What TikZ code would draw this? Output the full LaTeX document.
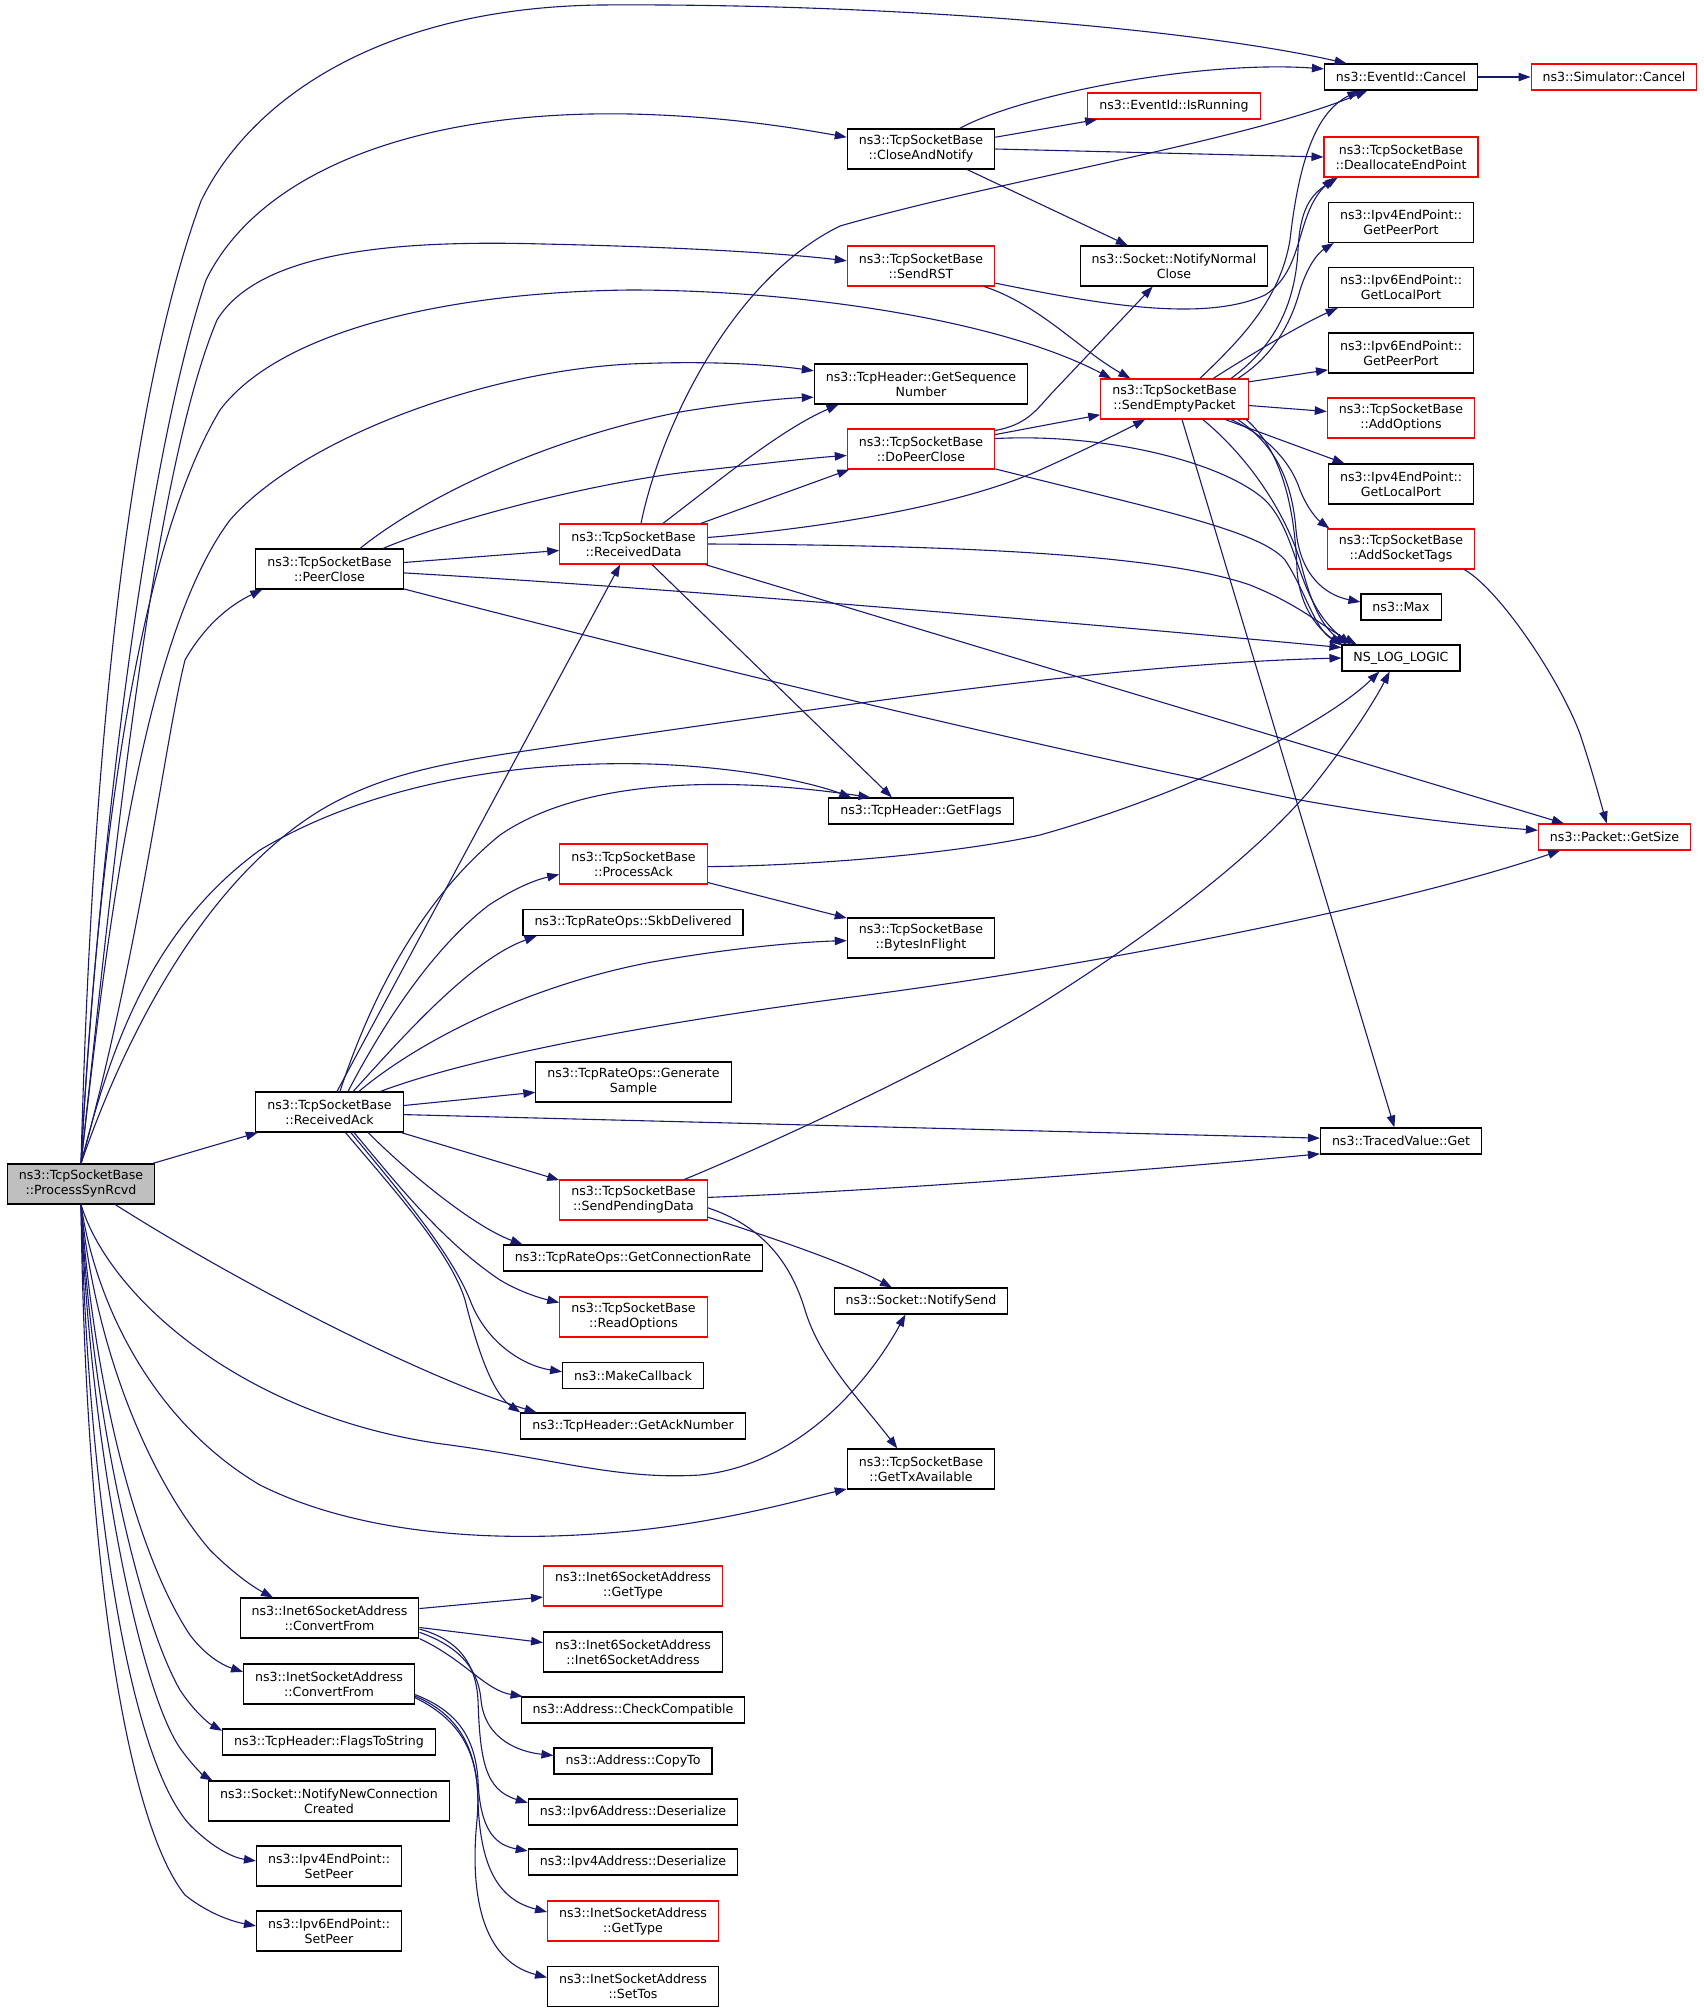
\documentclass[tikz,border=0pt]{standalone}
\usepackage{fontspec}
\setmainfont{DejaVu Sans}
\usetikzlibrary{arrows.meta}
\definecolor{callblue}{RGB}{25,25,112}
\definecolor{rootgray}{RGB}{191,191,191}

\begin{document}
\begin{tikzpicture}[
			x=1pt, y=-1pt,
			fn/.style = {draw=black, fill=white, line width=1.1pt, rectangle, align=center,
				inner xsep=11.5pt, inner ysep=0pt, minimum height=26pt,
				font=\fontsize{12.6}{15}\selectfont},
			twoline/.style = {minimum height=40pt},
			trunc/.style = {draw=red},
			rootfn/.style = {fill=rootgray},
			call/.style = {draw=callblue, line width=1.1pt, -{Triangle[length=12pt,width=8.5pt]}}
		]
		\useasboundingbox (0,0) rectangle (1704,2012);
		% Column 0.
		\node[fn, twoline, rootfn] (P) at (81,1184) {ns3::TcpSocketBase\\::ProcessSynRcvd};
		% Column 1.
		\node[fn, twoline] (PC) at (329.5,569) {ns3::TcpSocketBase\\::PeerClose};
		\node[fn, twoline] (RA) at (329.5,1112) {ns3::TcpSocketBase\\::ReceivedAck};
		\node[fn, twoline] (I6C) at (329.5,1618) {ns3::Inet6SocketAddress\\::ConvertFrom};
		\node[fn, twoline] (I4C) at (329,1684) {ns3::InetSocketAddress\\::ConvertFrom};
		\node[fn] (FTS) at (329,1742) {ns3::TcpHeader::FlagsToString};
		\node[fn, twoline] (NNCC) at (329,1801) {ns3::Socket::NotifyNewConnection\\Created};
		\node[fn, twoline] (V4SP) at (329,1866) {ns3::Ipv4EndPoint::\\SetPeer};
		\node[fn, twoline] (V6SP) at (329,1931) {ns3::Ipv6EndPoint::\\SetPeer};
		% Column 2.
		\node[fn, twoline, trunc] (RD) at (633.5,544) {ns3::TcpSocketBase\\::ReceivedData};
		\node[fn, twoline, trunc] (PA) at (633.5,864) {ns3::TcpSocketBase\\::ProcessAck};
		\node[fn] (SKB) at (633,922.5) {ns3::TcpRateOps::SkbDelivered};
		\node[fn, twoline] (GEN) at (633.5,1082) {ns3::TcpRateOps::Generate\\Sample};
		\node[fn, twoline, trunc] (SPD) at (633.5,1200) {ns3::TcpSocketBase\\::SendPendingData};
		\node[fn] (GCR) at (633,1258) {ns3::TcpRateOps::GetConnectionRate};
		\node[fn, twoline, trunc] (RO) at (633.5,1317) {ns3::TcpSocketBase\\::ReadOptions};
		\node[fn] (MC) at (633,1375.5) {ns3::MakeCallback};
		\node[fn] (GAN) at (633,1426) {ns3::TcpHeader::GetAckNumber};
		\node[fn, twoline, trunc] (I6T) at (633,1586) {ns3::Inet6SocketAddress\\::GetType};
		\node[fn, twoline] (I6S) at (633,1652) {ns3::Inet6SocketAddress\\::Inet6SocketAddress};
		\node[fn] (CC) at (633,1710) {ns3::Address::CheckCompatible};
		\node[fn] (CT) at (633,1761) {ns3::Address::CopyTo};
		\node[fn] (V6D) at (633,1812) {ns3::Ipv6Address::Deserialize};
		\node[fn] (V4D) at (633,1862) {ns3::Ipv4Address::Deserialize};
		\node[fn, twoline, trunc] (I4T) at (633,1921) {ns3::InetSocketAddress\\::GetType};
		\node[fn, twoline] (I4ST) at (633,1986.5) {ns3::InetSocketAddress\\::SetTos};
		% Column 3.
		\node[fn, twoline] (CN) at (921,149) {ns3::TcpSocketBase\\::CloseAndNotify};
		\node[fn, twoline, trunc] (SR) at (921,266) {ns3::TcpSocketBase\\::SendRST};
		\node[fn, twoline] (GSN) at (921,384) {ns3::TcpHeader::GetSequence\\Number};
		\node[fn, twoline, trunc] (DPC) at (921,449) {ns3::TcpSocketBase\\::DoPeerClose};
		\node[fn] (GF) at (921,811) {ns3::TcpHeader::GetFlags};
		\node[fn, twoline] (BIF) at (921,938) {ns3::TcpSocketBase\\::BytesInFlight};
		\node[fn] (NS) at (921,1301) {ns3::Socket::NotifySend};
		\node[fn, twoline] (GTA) at (921,1469) {ns3::TcpSocketBase\\::GetTxAvailable};
		% Column 4.
		\node[fn, trunc] (IR) at (1174,106) {ns3::EventId::IsRunning};
		\node[fn, twoline] (NNC) at (1174,266) {ns3::Socket::NotifyNormal\\Close};
		\node[fn, twoline, trunc] (SEP) at (1174.5,399) {ns3::TcpSocketBase\\::SendEmptyPacket};
		% Column 5.
		\node[fn] (EC) at (1401,77) {ns3::EventId::Cancel};
		\node[fn, twoline, trunc] (DE) at (1401,157) {ns3::TcpSocketBase\\::DeallocateEndPoint};
		\node[fn, twoline] (V4PP) at (1401,222.5) {ns3::Ipv4EndPoint::\\GetPeerPort};
		\node[fn, twoline] (V6LP) at (1401,287.5) {ns3::Ipv6EndPoint::\\GetLocalPort};
		\node[fn, twoline] (V6PP) at (1401,353) {ns3::Ipv6EndPoint::\\GetPeerPort};
		\node[fn, twoline, trunc] (AO) at (1401,418) {ns3::TcpSocketBase\\::AddOptions};
		\node[fn, twoline] (V4LP) at (1401,484) {ns3::Ipv4EndPoint::\\GetLocalPort};
		\node[fn, twoline, trunc] (AST) at (1401,549) {ns3::TcpSocketBase\\::AddSocketTags};
		\node[fn] (MX) at (1401,607) {ns3::Max};
		\node[fn] (LOG) at (1401,658) {NS\_LOG\_LOGIC};
		\node[fn] (TV) at (1401,1141) {ns3::TracedValue::Get};
		% Column 6.
		\node[fn, trunc] (SC) at (1614,77) {ns3::Simulator::Cancel};
		\node[fn, trunc] (GS) at (1614.5,837) {ns3::Packet::GetSize};

		% Calls from ProcessSynRcvd.
		\draw[call] (P.north) .. controls (88,900) and (110,450) .. (201,201) .. controls (250,100) and (380,8) .. (600,5) .. controls (900,3) and (1200,30) .. (EC.166);
		\draw[call] (P.north) .. controls (95,900) and (140,480) .. (206,280) .. controls (260,170) and (420,110) .. (630,114) .. controls (720,116) and (790,127) .. (CN.171);
		\draw[call] (P.north) .. controls (110,900) and (150,480) .. (217,320) .. controls (260,250) and (400,240) .. (543,244) .. controls (680,247) and (780,253) .. (SR.176);
		\draw[call] (P.north) .. controls (95,900) and (130,560) .. (220,410) .. controls (280,330) and (450,292) .. (630,290) .. controls (800,290) and (1000,320) .. (SEP.162);
		\draw[call] (P.north) .. controls (105,950) and (140,640) .. (230,520) .. controls (300,440) and (480,372) .. (630,364) .. controls (720,360) and (780,366) .. (GSN.173);
		\draw[call] (P.north) .. controls (140,950) and (165,740) .. (185,660) .. controls (205,625) and (230,605) .. (PC.197);
		\draw[call] (P.north) .. controls (120,1050) and (200,880) .. (326,807) .. controls (400,765) and (480,758) .. (600,740) .. controls (800,712) and (1100,664) .. (LOG.west);
		\draw[call] (P.north) .. controls (110,1050) and (150,930) .. (260,850) .. controls (360,790) and (500,760) .. (650,764) .. controls (740,767) and (810,782) .. (GF.169);
		\draw[call] (P.16) -- (RA.196);
		\draw[call] (P.329) .. controls (250,1290) and (430,1380) .. (GAN.172);
		\draw[call] (P.south) .. controls (110,1300) and (250,1420) .. (450,1445) .. controls (560,1460) and (620,1480) .. (700,1475) .. controls (800,1465) and (870,1380) .. (NS.221);
		\draw[call] (P.south) .. controls (95,1300) and (150,1420) .. (260,1485) .. controls (360,1535) and (500,1545) .. (640,1530) .. controls (730,1520) and (800,1500) .. (GTA.195);
		\draw[call] (P.south) .. controls (95,1350) and (150,1480) .. (210,1550) .. controls (235,1575) and (255,1588) .. (I6C.160);
		\draw[call] (P.south) .. controls (95,1400) and (140,1560) .. (190,1635) .. controls (205,1655) and (222,1665) .. (I4C.172);
		\draw[call] (P.south) .. controls (92,1420) and (140,1620) .. (180,1690) .. controls (193,1710) and (208,1723) .. (FTS.174);
		\draw[call] (P.south) .. controls (90,1450) and (140,1690) .. (180,1748) .. controls (192,1765) and (203,1775) .. (NNCC.170);
		\draw[call] (P.south) .. controls (88,1500) and (130,1760) .. (190,1825) .. controls (215,1850) and (235,1858) .. (V4SP.176);
		\draw[call] (P.south) .. controls (85,1550) and (125,1820) .. (185,1895) .. controls (210,1915) and (235,1922) .. (V6SP.176);

		% Calls from CloseAndNotify and SendRST.
		\draw[call] (CN.28) .. controls (1020,95) and (1200,60) .. (EC.174);
		\draw[call] (CN.9) -- (IR.190);
		\draw[call] (CN.east) -- (DE.west);
		\draw[call] (CN.336) -- (NNC.156);
		\draw[call] (SR.342) .. controls (1040,305) and (1080,350) .. (SEP.155);
		\draw[call] (SR.347) .. controls (1080,300) and (1200,325) .. (1265,295) .. controls (1305,270) and (1295,215) .. (DE.197);

		% Calls from SendEmptyPacket.
		\draw[call] (SEP.39) .. controls (1240,340) and (1280,300) .. (1290,240) .. controls (1300,150) and (1320,110) .. (EC.198);
		\draw[call] (SEP.20) .. controls (1270,350) and (1295,310) .. (1298,250) .. controls (1300,210) and (1310,195) .. (DE.198);
		\draw[call] (SEP.18) .. controls (1275,355) and (1292,320) .. (1300,290) .. controls (1308,265) and (1318,253) .. (V4PP.197);
		\draw[call] (SEP.28) .. controls (1250,355) and (1300,325) .. (V6LP.198);
		\draw[call] (SEP.13) -- (V6PP.193);
		\draw[call] (SEP.355) -- (AO.175);
		\draw[call] (SEP.338) -- (V4LP.160);
		\draw[call] (SEP.340) .. controls (1265,435) and (1290,460) .. (1300,490) .. controls (1308,510) and (1318,520) .. (AST.164);
		\draw[call] (SEP.342) .. controls (1275,445) and (1292,480) .. (1296,530) .. controls (1300,575) and (1325,595) .. (MX.173);
		\draw[call] (SEP.344) .. controls (1282,450) and (1295,510) .. (1297,570) .. controls (1300,610) and (1320,630) .. (LOG.168);
		\draw[call] (SEP.324) .. controls (1240,450) and (1280,500) .. (1300,560) .. controls (1310,600) and (1320,625) .. (LOG.166);
		\draw[call] (SEP.290) -- (TV.116);

		% Calls from DoPeerClose.
		\draw[call] (DPC.14) .. controls (1025,425) and (1035,412) .. (1050,395) -- (NNC.224);
		\draw[call] (DPC.11) -- (SEP.192);
		\draw[call] (DPC.8) .. controls (1100,433) and (1220,460) .. (1265,500) .. controls (1300,535) and (1295,600) .. (LOG.165);
		\draw[call] (DPC.345) .. controls (1150,508) and (1260,530) .. (1285,560) .. controls (1305,590) and (1315,630) .. (LOG.167);

		% Calls from ReceivedData.
		\draw[call] (RD.70) .. controls (660,430) and (730,280) .. (840,226) .. controls (1000,180) and (1250,140) .. (EC.202);
		\draw[call] (RD.35) .. controls (720,480) and (780,430) .. (GSN.194);
		\draw[call] (RD.17) -- (DPC.196);
		\draw[call] (RD.5) .. controls (800,530) and (950,510) .. (1040,470) .. controls (1080,452) and (1115,435) .. (SEP.215);
		\draw[call] (RD.east) .. controls (900,545) and (1150,550) .. (1250,585) .. controls (1300,605) and (1320,625) .. (LOG.163);
		\draw[call] (RD.312) -- (GF.155);
		\draw[call] (RD.344) -- (GS.165);

		% Calls from PeerClose.
		\draw[call] (PC.34) .. controls (420,500) and (540,440) .. (680,412) .. controls (740,402) and (790,398) .. (GSN.187);
		\draw[call] (PC.21) .. controls (450,520) and (600,480) .. (706,470) .. controls (760,464) and (810,458) .. (DPC.185);
		\draw[call] (PC.5) -- (RD.185);
		\draw[call] (PC.357) .. controls (700,590) and (1100,625) .. (LOG.170);
		\draw[call] (PC.345) .. controls (600,640) and (1000,740) .. (1300,800) .. controls (1400,818) and (1480,826) .. (GS.175);

		% Calls from ReceivedAck.
		\draw[call] (RA.70) -- (RD.237);
		\draw[call] (RA.63) .. controls (370,1000) and (420,900) .. (500,835) .. controls (580,780) and (720,775) .. (GF.165);
		\draw[call] (RA.48) .. controls (380,1030) and (430,950) .. (489,905) .. controls (515,888) and (535,880) .. (PA.188);
		\draw[call] (RA.41) .. controls (400,1040) and (470,960) .. (SKB.188);
		\draw[call] (RA.35) .. controls (420,1040) and (530,985) .. (652,962) .. controls (730,948) and (800,942) .. (BIF.182);
		\draw[call] (RA.22) .. controls (450,1065) and (600,1030) .. (852,997) .. controls (1100,965) and (1400,905) .. (GS.194);
		\draw[call] (RA.5) -- (GEN.186);
		\draw[call] (RA.358) -- (TV.178);
		\draw[call] (RA.344) -- (SPD.165);
		\draw[call] (RA.332) .. controls (400,1165) and (470,1225) .. (GCR.173);
		\draw[call] (RA.320) .. controls (390,1175) and (440,1240) .. (500,1280) .. controls (520,1292) and (540,1298) .. (RO.169);
		\draw[call] (RA.316) .. controls (390,1180) and (450,1250) .. (470,1300) .. controls (485,1340) and (520,1365) .. (MC.177);
		\draw[call] (RA.308) .. controls (385,1180) and (450,1250) .. (465,1300) .. controls (480,1360) and (495,1395) .. (GAN.north west);

		% Calls from ProcessAck and SendPendingData.
		\draw[call] (PA.358) .. controls (800,866) and (950,855) .. (1040,835) .. controls (1200,790) and (1330,720) .. (LOG.212);
		\draw[call] (PA.346) -- (BIF.165);
		\draw[call] (SPD.22) .. controls (780,1140) and (950,1060) .. (1042,1003) .. controls (1150,935) and (1250,860) .. (1310,790) .. controls (1350,740) and (1375,700) .. (LOG.230);
		\draw[call] (SPD.2) .. controls (900,1190) and (1150,1170) .. (TV.189);
		\draw[call] (SPD.347) .. controls (780,1240) and (850,1265) .. (NS.155);
		\draw[call] (SPD.354) .. controls (760,1225) and (790,1260) .. (805,1310) .. controls (820,1360) and (860,1400) .. (GTA.139);

		% Right-hand calls.
		\draw[call] (AST.342) .. controls (1500,590) and (1560,680) .. (1580,734) .. controls (1592,770) and (1600,800) .. (GS.120);
		\draw[call] (EC.east) -- (SC.west);

		% Address conversions.
		\draw[call] (I6C.6) -- (I6T.187);
		\draw[call] (I6C.354) -- (I6S.174);
		\draw[call] (I6C.south east) .. controls (465,1660) and (485,1690) .. (CC.173);
		\draw[call] (I6C.351) .. controls (455,1645) and (478,1665) .. (481,1700) .. controls (485,1740) and (520,1752) .. (CT.176);
		\draw[call] (I6C.353) .. controls (460,1640) and (476,1665) .. (478,1700) .. controls (480,1760) and (485,1790) .. (V6D.175);
		\draw[call] (I4C.353) .. controls (455,1710) and (475,1735) .. (478,1780) .. controls (480,1830) and (495,1845) .. (V4D.174);
		\draw[call] (I4C.352) .. controls (460,1715) and (477,1750) .. (478,1800) .. controls (480,1870) and (500,1900) .. (I4T.174);
		\draw[call] (I4C.351) .. controls (465,1722) and (482,1760) .. (477,1820) .. controls (470,1890) and (480,1960) .. (I4ST.174);
	\end{tikzpicture}
\end{document}
